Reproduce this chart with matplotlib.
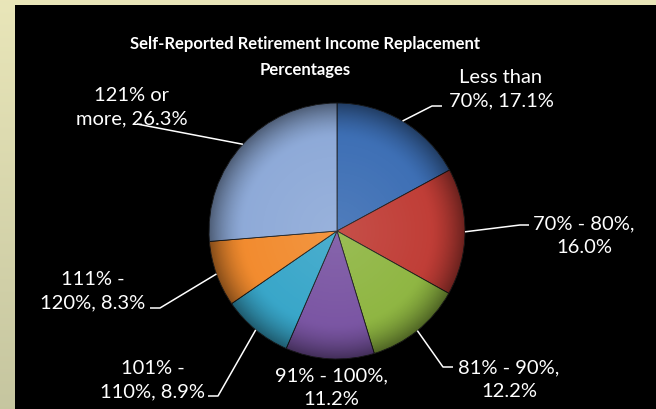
import numpy as np
import matplotlib.pyplot as plt
from matplotlib.patches import Circle

W, H = 656, 410

categories = ['Less than 70%', '70% - 80%', '81% - 90%', '91% - 100%',
              '101% - 110%', '111% - 120%', '121% or more']
shares = [17.1, 16.0, 12.2, 11.2, 8.9, 8.3, 26.3]
label_text = ['Less than\n70%, 17.1%', '70% - 80%,\n16.0%', '81% - 90%,\n12.2%',
              '91% - 100%,\n11.2%', '101% -\n110%, 8.9%', '111% -\n120%, 8.3%',
              '121% or\nmore, 26.3%']
colors = ['#3d6fb5', '#c03d36', '#8fb642', '#7a55a3', '#38a6c9', '#f28b2e', '#8eaad8']
title = 'Self-Reported Retirement Income Replacement\nPercentages'

# layout in image pixels (x right, y down)
pie_c = (337, 232)
pie_r = 128
# label centre, knee of leader line (None = straight), end of leader
label_pos = [(501, 89), (584, 236), (509, 380), (331, 388), (153, 380), (93, 291), (132, 107)]
knees = [(432, 107), (520, 226), (443, 368), None, (218, 397), (160, 309), None]
ends = [(442, 107), (529, 226), (453, 368), None, (208, 397), (150, 309), (137, 125)]

plt.rcParams['font.family'] = ['Lato', 'DejaVu Sans']

fig = plt.figure(figsize=(W / 100, H / 100), dpi=100)

# beige gradient frame
bg = fig.add_axes([0, 0, 1, 1])
grad = np.linspace(0, 1, 256).reshape(-1, 1)
top = np.array([0.914, 0.902, 0.725])
bot = np.array([0.776, 0.776, 0.627])
img = top + (bot - top) * grad[:, :, None]
bg.imshow(img.repeat(2, axis=1), aspect='auto', extent=(0, 1, 0, 1))
bg.axis('off')

ax = fig.add_axes([15 / W, 0, (W - 15) / W, (H - 6) / H])
ax.set_facecolor('black')


def Y(py):
    return H - py


cx, cy = pie_c[0], Y(pie_c[1])
wedges, _ = ax.pie(shares, colors=colors, startangle=90, counterclock=False,
                   radius=pie_r, center=(cx, cy), frame=True,
                   wedgeprops=dict(edgecolor='#1a1a1a', linewidth=0.6))

# shading to give the slices a rounded look
n = 400
xs = np.linspace(-1, 1, n)
xx, yy = np.meshgrid(xs, xs)
r = np.sqrt(xx ** 2 + yy ** 2)
shade = np.zeros((n, n, 4))
dark = np.clip((r - 0.72) / 0.28, 0, 1) ** 1.6 * 0.45
light = np.clip(1 - r / 0.8, 0, 1) * 0.10
shade[..., :3] = (light / (light + dark + 1e-9))[..., None]
shade[..., 3] = np.clip(dark + light, 0, 1)
im = ax.imshow(shade, extent=(cx - pie_r, cx + pie_r, cy - pie_r, cy + pie_r),
               origin='lower', zorder=3, interpolation='bilinear')
clip = Circle((cx, cy), pie_r, transform=ax.transData)
im.set_clip_path(clip)

for i, w in enumerate(wedges):
    w.set_zorder(2)
    tx, ty = label_pos[i]
    ax.text(tx, Y(ty), label_text[i], color='white', fontsize=14.5,
            ha='center', va='center', multialignment='center', linespacing=1.45, zorder=5)
    if ends[i] is None:
        continue
    ang = np.deg2rad((w.theta1 + w.theta2) / 2)
    ex, ey = cx + pie_r * np.cos(ang), cy + pie_r * np.sin(ang)
    px = [ex]
    py = [ey]
    if knees[i] is not None:
        px.append(knees[i][0])
        py.append(Y(knees[i][1]))
    px.append(ends[i][0])
    py.append(Y(ends[i][1]))
    ax.plot(px, py, color='white', lw=1.1, zorder=4, solid_capstyle='butt')

ax.text(305, Y(57), title, color='white', fontsize=12, fontweight='bold',
        ha='center', va='center', linespacing=1.75, zorder=5)

ax.set_xlim(15, W)
ax.set_ylim(0, H - 6)
ax.set_aspect('auto')
ax.set_xticks([])
ax.set_yticks([])
for s in ax.spines.values():
    s.set_visible(False)

fig.savefig('out.png', dpi=100, facecolor=fig.get_facecolor())
